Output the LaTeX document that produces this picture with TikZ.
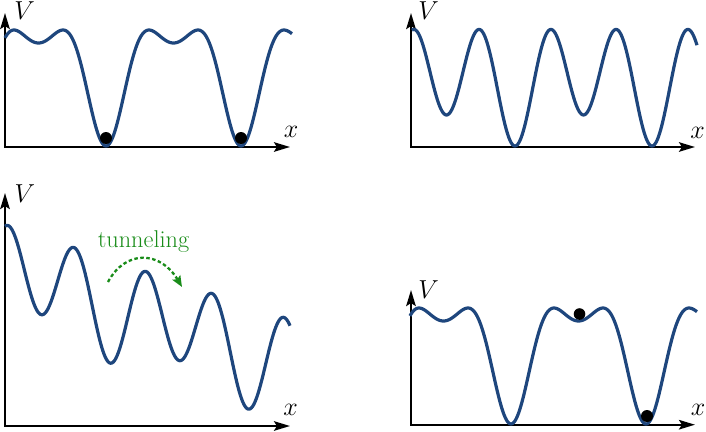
\RequirePackage{fix-cm}
\documentclass[tikz,border=0pt]{standalone}
\usetikzlibrary{arrows.meta}
\definecolor{curveblue}{RGB}{30,70,125}
\definecolor{tgreen}{RGB}{25,140,25}
\begin{document}
\begin{tikzpicture}[x=1pt,y=-1pt,
  axis/.style={line width=2.3pt, black, {Stealth[length=16pt,width=9.5pt,inset=3pt]}-{Stealth[length=16pt,width=9.5pt,inset=3pt]}},
  curve/.style={line width=3.2pt, curveblue, line join=round},
  lbl/.style={font=\fontsize{26}{30}\selectfont, inner sep=0pt},
  ball/.style={fill=black},
  tunnel/.style={line width=2.3pt, tgreen, dash pattern=on 3.5pt off 2.5pt, -{Stealth[length=11pt,width=9pt,inset=2pt]}}]
\useasboundingbox (0,0) rectangle (706,431);

% ---------- top-left ----------
\coordinate (tlY) at (5,13);
\coordinate (tlO) at (5,147);
\coordinate (tlX) at (290,147);
\draw[axis] (tlY) -- (tlO) -- (tlX);
\node[lbl] (tlV) at (24.5,11) {$V$};
\node[lbl] (tlx) at (291,132) {$x$};
\draw[curve] plot[domain=5:292, samples=260, smooth]
  (\x, {66.44+49.08*cos((\x-106)/135*360)+28.06*cos(2*(\x-106)/135*360)+2.417*cos(3*(\x-106)/135*360)});
\fill[ball] (106,138) circle (6);
\fill[ball] (241,138) circle (6);

% ---------- top-right ----------
\coordinate (trY) at (411,13);
\coordinate (trO) at (411,147);
\coordinate (trX) at (695,147);
\draw[axis] (trY) -- (trO) -- (trX);
\node[lbl] (trV) at (428.5,11) {$V$};
\node[lbl] (trx) at (697.5,132.5) {$x$};
\draw[curve] plot[domain=412:697, samples=260, smooth]
  (\x, {80.25+15.5*cos((\x-515)/137*360)+50.25*cos(2*(\x-515)/137*360)});

% ---------- bottom-left ----------
\coordinate (blY) at (5,193);
\coordinate (blO) at (5,426);
\coordinate (blX) at (290,426);
\draw[axis] (blY) -- (blO) -- (blX);
\node[lbl] (blV) at (24.8,194) {$V$};
\node[lbl] (blx) at (290.7,410) {$x$};
\draw[curve] plot[domain=5:290, samples=260, smooth]
  (\x, {268.5+0.333*\x+12.75*cos((\x-110)/138*360)+45.2*cos(2*(\x-110)/138*360)});
\node[font=\fontsize{24.3}{29}\selectfont, text=tgreen, anchor=base, inner sep=0pt] (tun) at (143.5,247) {tunneling};
\coordinate (tunA) at (108,282);
\coordinate (tunB) at (182,287);
\draw[tunnel] (tunA) .. controls (125,250) and (160,250) .. (tunB);

% ---------- bottom-right ----------
\coordinate (brY) at (411,290);
\coordinate (brO) at (411,424.7);
\coordinate (brX) at (695,424.7);
\draw[axis] (brY) -- (brO) -- (brX);
\node[lbl] (brV) at (428.5,290) {$V$};
\node[lbl] (brx) at (698,410) {$x$};
\draw[curve] plot[domain=410:697, samples=260, smooth]
  (\x, {278+66.44+49.08*cos((\x-511)/135*360)+28.06*cos(2*(\x-511)/135*360)+2.417*cos(3*(\x-511)/135*360)});
\fill[ball] (579.5,314) circle (5.8);
\fill[ball] (647,416) circle (6);
\end{tikzpicture}
\end{document}
